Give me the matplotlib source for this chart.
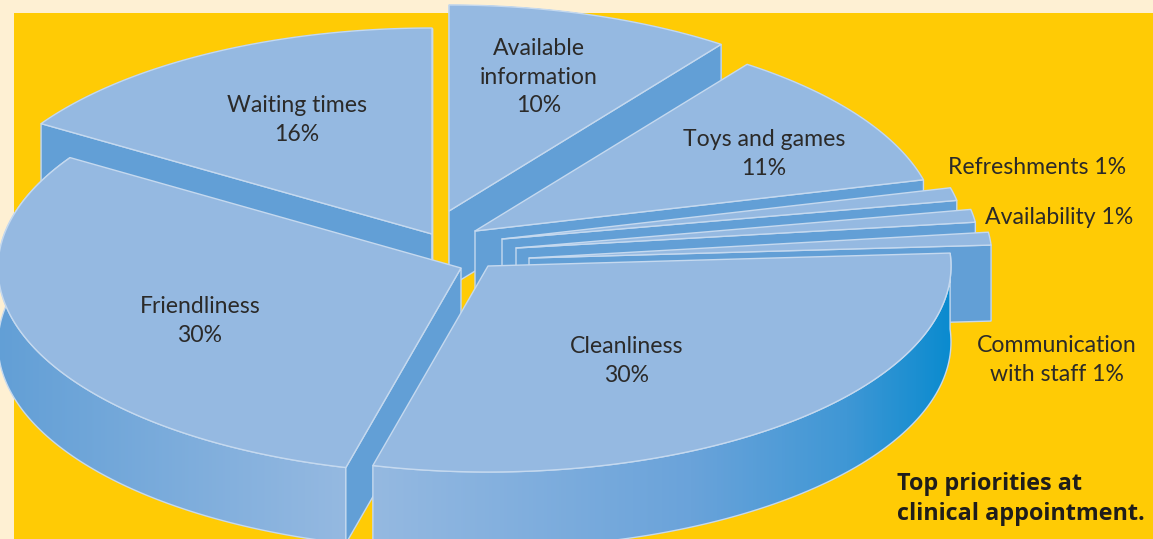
import numpy as np
import matplotlib.pyplot as plt
from matplotlib.colors import LinearSegmentedColormap
from matplotlib.patches import Polygon, Rectangle

plt.rcParams["font.family"] = ["Lato", "DejaVu Sans"]

# slices run clockwise from 12 o'clock
labels = ["Available\ninformation", "Toys and games", "Refreshments", "Availability",
          "Communication\nwith staff", "Cleanliness", "Friendliness", "Waiting times"]
values = [10, 11, 1, 1, 1, 30, 30, 16]

# how far each slice is pulled away from the middle of the pie
shift_x = [-21, 5, 32, 46, 59, 18, -9, -38]
shift_y = [-34, -14, -6, 3, 13, 21, 23, -11]

draw_order = [7, 0, 1, 2, 3, 4, 6, 5]

centre_x, centre_y = 470, 245
radius_x, radius_y = 463, 206
depth = 76

cream = "#fef0d3"
yellow = "#ffcb05"
top_color = "#95b9e1"
wall_color = "#629fd6"
edge_color = "#c5d9ef"
text_color = "#2b2a29"

fig = plt.figure(figsize=(11.53, 5.39), dpi=100, facecolor=cream)
ax = fig.add_axes([0, 0, 1, 1])
ax.axis("off")
ax.add_patch(Rectangle((14, 13), 1153, 539, color=yellow, lw=0, zorder=0))

# outer walls of the two big front slices fade across the pie
wall_fades = {
    5: [(0.0, top_color), (0.55, "#6aa3da"), (0.82, "#3f97d5"), (1.0, "#0a8bcf")],
    6: [(0.0, wall_color), (1.0, top_color)],
}


def draw_flat_wall(points, zorder, stroke=True):
    ax.add_patch(Polygon(np.array(points), fc=wall_color, ec=edge_color if stroke else wall_color,
                         lw=1 if stroke else 0.3, zorder=zorder))


def draw_fade_wall(points, zorder, fade):
    xy = np.array(points)
    cmap = LinearSegmentedColormap.from_list("fade", fade)
    clip = Polygon(xy, fc="none", ec=edge_color, lw=1, zorder=zorder + 0.1)
    ax.add_patch(clip)
    img = ax.imshow(np.linspace(0, 1, 256).reshape(1, -1), cmap=cmap, aspect="auto",
                    extent=[xy[:, 0].min(), xy[:, 0].max(), xy[:, 1].max(), xy[:, 1].min()],
                    zorder=zorder)
    img.set_clip_path(clip)


ends = 90 - 3.6 * np.cumsum(values)
starts = ends + 3.6 * np.array(values)

for z, i in enumerate(draw_order):
    tip_x = centre_x + shift_x[i]
    tip_y = centre_y + shift_y[i]
    angles = np.radians(np.linspace(starts[i], ends[i], 120))
    arc_x = tip_x + radius_x * np.cos(angles)
    arc_y = tip_y - radius_y * np.sin(angles)
    arc = np.column_stack([arc_x, arc_y])
    drop = np.array([0, depth])
    tip = np.array([tip_x, tip_y])

    base = 10 * (z + 1)
    rim = np.vstack([arc, (arc + drop)[::-1]])
    if i in wall_fades:
        draw_fade_wall(rim, base, wall_fades[i])
    else:
        draw_flat_wall(rim, base, stroke=False)

    # a cut face shows only when it turns towards the viewer, otherwise the top hides it
    if np.cos(angles[0]) < 1e-6:
        draw_flat_wall([tip, arc[0], arc[0] + drop, tip + drop], base + 1)
    if np.cos(angles[-1]) > -1e-6:
        draw_flat_wall([tip, arc[-1], arc[-1] + drop, tip + drop], base + 2)
    ax.add_patch(Polygon(np.vstack([tip, arc]), fc=top_color, ec=edge_color, lw=1,
                         joinstyle="round", zorder=base + 3))

label_pos = [(539, 77), (764, 154), (1037, 167), (1059, 217),
             (1057, 360), (627, 361), (200, 321), (297, 120)]
for i in range(len(values)):
    if i in (2, 3, 4):
        text = f"{labels[i]} {values[i]}%"
    else:
        text = f"{labels[i]}\n{values[i]}%"
    ax.text(label_pos[i][0], label_pos[i][1], text, ha="center", va="center", fontsize=16.6,
            color=text_color, linespacing=1.47, zorder=200)

ax.text(897, 499, "Top priorities at\nclinical appointment.", ha="left", va="center",
        fontsize=16.8, fontfamily=["Open Sans", "DejaVu Sans"], fontweight="bold",
        color="#1f1d1b", linespacing=1.37, zorder=200)

ax.set_xlim(0, 1153)
ax.set_ylim(539, 0)
fig.savefig("out.png", dpi=100, facecolor=cream)
